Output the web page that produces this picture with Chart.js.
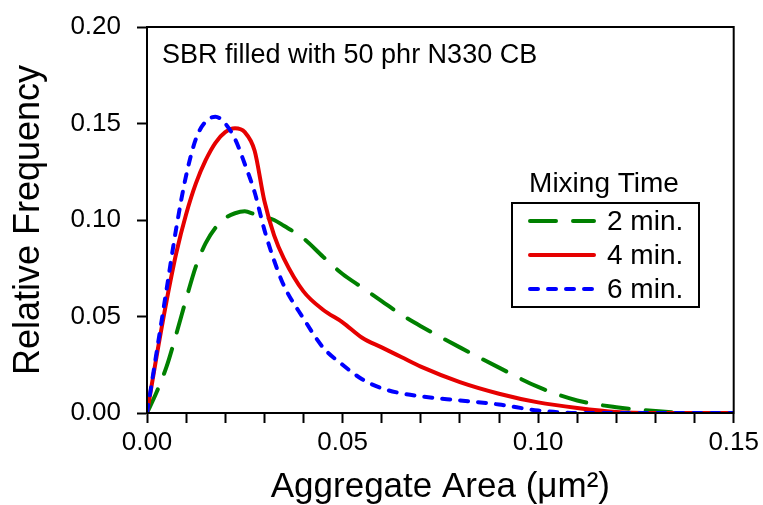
<!DOCTYPE html>
<html>
<head>
<meta charset="utf-8">
<title>Aggregate area distribution</title>
<script src="https://cdn.jsdelivr.net/npm/chart.js@4.4.0/dist/chart.umd.min.js"></script>
<style>
  html, body { margin: 0; padding: 0; background: #fff; }
  #wrap { width: 763px; height: 505px; }
</style>
</head>
<body>
<div id="wrap"><canvas id="areaChart" width="763" height="505"></canvas></div>
<script>
// aggregate area (um^2) sample points
const areas = [0, 0.0025, 0.005, 0.0075, 0.01, 0.0125, 0.015, 0.0175, 0.02, 0.0225,
    0.025, 0.0275, 0.03, 0.0325, 0.035, 0.04, 0.045, 0.05, 0.055, 0.06,
    0.065, 0.07, 0.08, 0.09, 0.10, 0.11, 0.12, 0.13, 0.14, 0.15];

// relative frequency per mixing time
const freq2min = [0, 0.011, 0.024, 0.041, 0.059, 0.076, 0.088, 0.096, 0.101, 0.1035,
    0.1045, 0.103, 0.1015, 0.100, 0.097, 0.0905, 0.081, 0.072, 0.065, 0.058,
    0.051, 0.045, 0.034, 0.0235, 0.0135, 0.0065, 0.003, 0.001, 0, 0];
const freq4min = [0, 0.030, 0.058, 0.083, 0.103, 0.119, 0.131, 0.140, 0.1455, 0.1475,
    0.1455, 0.136, 0.110, 0.092, 0.080, 0.063, 0.0535, 0.047, 0.039, 0.034,
    0.029, 0.024, 0.016, 0.010, 0.0055, 0.0026, 0.0005, 0, 0, 0];
const freq6min = [0, 0.032, 0.064, 0.096, 0.123, 0.142, 0.151, 0.1535, 0.150, 0.142,
    0.129, 0.1145, 0.095, 0.079, 0.066, 0.049, 0.034, 0.025, 0.0175, 0.0128,
    0.0102, 0.0086, 0.0065, 0.0044, 0.0013, 0, 0, 0, 0, 0];

const seriesLabels = ['2 min.', '4 min.', '6 min.'];
const xTicks = [0, 0.05, 0.10, 0.15];
const yTicks = [0, 0.05, 0.10, 0.15, 0.20];

const FONT = "'Liberation Sans', Arial, sans-serif";

function toPoints(ys) {
    return areas.map((x, i) => ({ x: x, y: ys[i] }));
}

// frame + note + legend drawn on top of the plot
const decorations = {
    id: 'decorations',
    afterDraw(chart) {
        const { ctx, chartArea: a } = chart;
        ctx.save();
        ctx.strokeStyle = '#000';
        ctx.lineWidth = 2;
        ctx.strokeRect(a.left, a.top, a.right - a.left, a.bottom - a.top);

        ctx.fillStyle = '#000';
        ctx.font = '27px ' + FONT;
        ctx.textBaseline = 'alphabetic';
        ctx.textAlign = 'left';
        ctx.fillText('SBR filled with 50 phr N330 CB', 162, 63);

        // legend
        ctx.font = '28px ' + FONT;
        ctx.textAlign = 'center';
        ctx.fillText('Mixing Time', 604, 192);
        ctx.lineWidth = 2;
        ctx.strokeRect(512, 203, 187, 104);

        const rows = [221, 255, 289];
        chart.data.datasets.forEach((ds, i) => {
            const y = rows[i];
            ctx.save();
            ctx.strokeStyle = ds.borderColor;
            ctx.lineWidth = ds.borderWidth;
            ctx.lineCap = ds.borderCapStyle;
            ctx.setLineDash(ds.borderDash);
            ctx.beginPath();
            ctx.moveTo(530, y);
            ctx.lineTo(594, y);
            ctx.stroke();
            ctx.restore();
            ctx.textAlign = 'left';
            ctx.textBaseline = 'middle';
            ctx.fillText(ds.label, 607, y + 1);
        });
        ctx.restore();
    }
};

new Chart(document.getElementById('areaChart').getContext('2d'), {
    type: 'line',
    data: {
        datasets: [
            {
                label: seriesLabels[0],
                data: toPoints(freq2min),
                borderColor: '#008000',
                borderWidth: 4,
                borderDash: [26, 17],
                borderCapStyle: 'round',
                order: 3
            },
            {
                label: seriesLabels[1],
                data: toPoints(freq4min),
                borderColor: '#e60000',
                borderWidth: 4,
                borderDash: [],
                borderCapStyle: 'round',
                order: 2
            },
            {
                label: seriesLabels[2],
                data: toPoints(freq6min),
                borderColor: '#0000ff',
                borderWidth: 4,
                borderDash: [8, 10],
                borderCapStyle: 'round',
                order: 1
            }
        ]
    },
    options: {
        responsive: false,
        animation: false,
        layout: { padding: { top: 27, right: 29, left: 0, bottom: 0 } },
        elements: {
            point: { radius: 0 },
            line: { cubicInterpolationMode: 'monotone', fill: false }
        },
        scales: {
            x: {
                type: 'linear',
                min: 0,
                max: 0.15,
                afterFit: (s) => { s.height = 92; },
                afterBuildTicks: (s) => {
                    // minor ticks every 0.01, labels only at xTicks
                    const t = [];
                    for (let i = 0; i <= 15; i++) t.push({ value: i / 100 });
                    s.ticks = t;
                },
                ticks: {
                    autoSkip: false,
                    maxRotation: 0,
                    color: '#000',
                    padding: 4,
                    font: { family: FONT, size: 26 },
                    callback: (v) => xTicks.some(t => Math.abs(t - v) < 1e-9) ? v.toFixed(2) : ''
                },
                grid: { drawOnChartArea: false, drawTicks: true, tickLength: 10, tickColor: '#000', tickWidth: 2 },
                border: { display: true, color: '#000', width: 2 },
                title: {
                    display: true,
                    text: 'Aggregate Area (\u03bcm\u00b2)',
                    color: '#000',
                    font: { family: FONT, size: 35, lineHeight: 1 },
                    padding: { top: 0, bottom: 0 }
                }
            },
            y: {
                type: 'linear',
                min: 0,
                max: 0.2,
                afterFit: (s) => {
                    s.width = 147;
                    // keep the plot top set by layout padding only
                    s.paddingTop = 0;
                    s.paddingBottom = 0;
                },
                afterBuildTicks: (s) => { s.ticks = yTicks.map(v => ({ value: v })); },
                ticks: {
                    color: '#000',
                    padding: 16,
                    font: { family: FONT, size: 26 },
                    callback: (v) => v.toFixed(2)
                },
                grid: { drawOnChartArea: false, drawTicks: true, tickLength: 10, tickColor: '#000', tickWidth: 2 },
                border: { display: true, color: '#000', width: 2 },
                title: {
                    display: true,
                    text: 'Relative Frequency',
                    color: '#000',
                    font: { family: FONT, size: 36, lineHeight: 1 },
                    padding: { top: 11, bottom: 0 }
                }
            }
        },
        plugins: {
            legend: { display: false },
            tooltip: { enabled: false }
        }
    },
    plugins: [decorations]
});
</script>
</body>
</html>
